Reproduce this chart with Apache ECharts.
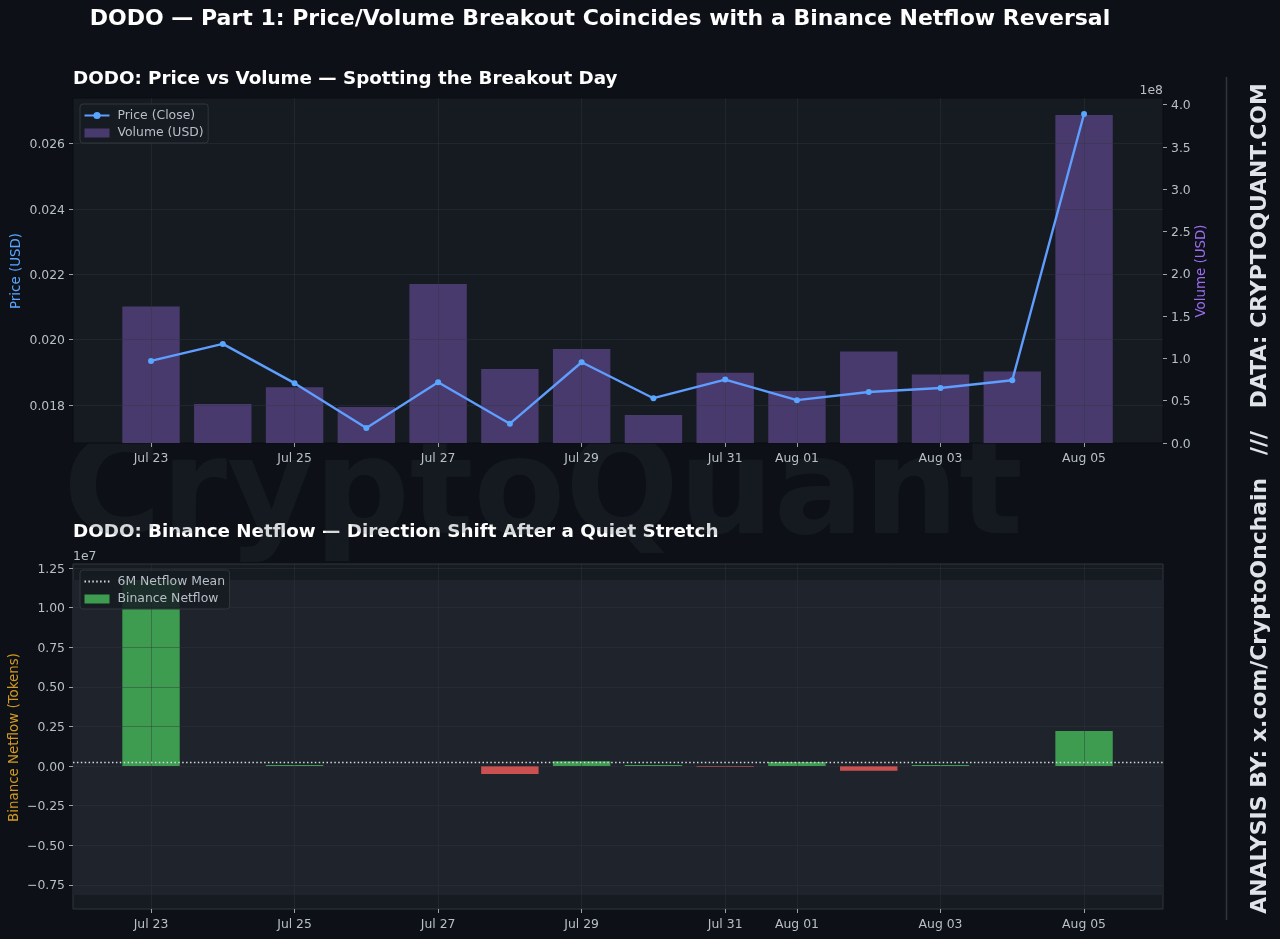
<!DOCTYPE html>
<html><head><meta charset="utf-8">
<style>html,body{margin:0;padding:0;background:#0d1117}#c{width:1280px;height:939px}</style>
<script src="https://cdn.jsdelivr.net/npm/echarts@6/dist/echarts.min.js"></script>
</head><body><div id="c"></div>
<script>
const dates = ['Jul 23','Jul 24','Jul 25','Jul 26','Jul 27','Jul 28','Jul 29','Jul 30','Jul 31','Aug 01','Aug 02','Aug 03','Aug 04','Aug 05'];
const price = [0.01935,0.01987,0.01867,0.0173,0.0187,0.01743,0.01931,0.01821,0.01878,0.01815,0.0184,0.01852,0.01876,0.0269];
const volume = [1.613e8,0.46e8,0.66e8,0.425e8,1.88e8,0.875e8,1.11e8,0.33e8,0.83e8,0.615e8,1.08e8,0.81e8,0.845e8,3.877e8];
const netflow = [1.174e7,0,12000,0,0,-0.05e7,0.03e7,10000,-12000,0.025e7,-0.03e7,12000,0,0.22e7];
const netflowMean = 0.022e7;
const netflowBand = [-0.814e7,1.174e7];
const xTickDays = ['Jul 23','Jul 25','Jul 27','Jul 29','Jul 31','Aug 01','Aug 03','Aug 05'];
const priceTicks = [0.018,0.020,0.022,0.024,0.026];
const volumeTicks = [0,0.5e8,1e8,1.5e8,2e8,2.5e8,3e8,3.5e8,4e8];
const netflowTicks = [-0.75e7,-0.5e7,-0.25e7,0,0.25e7,0.5e7,0.75e7,1e7,1.25e7];

const xTicks = xTickDays.map(d => dates.indexOf(d));
const XMIN = -1.087, XMAX = 14.1;
const TXT = '#b8bfc7';
const TICK = '#9aa3ad';
const FONT = 'DejaVu Sans';
const GRID = 'rgba(48,54,61,0.42)';
const xAxis = (gridIndex) => ({
  type:'value', gridIndex, min:XMIN, max:XMAX, z:6,
  axisLine:{show:false, onZero:false},
  axisTick:{show:true, customValues:xTicks, length:4, lineStyle:{color:TICK,width:1}},
  axisLabel:{customValues:xTicks, formatter:v => dates[v], color:TXT, fontFamily:FONT, fontSize:12.4, margin:10},
  splitLine:{show:true, lineStyle:{color:GRID,width:1}}
});
const yAxis = (gridIndex, ticks, fmt, pos, min, max, split) => ({
  type:'value', gridIndex, min, max, position:pos, z:6,
  axisLine:{show:false, onZero:false},
  axisTick:{show:true, customValues:ticks, length:4, lineStyle:{color:TICK,width:1}},
  axisLabel:{customValues:ticks, formatter:v => '{a|' + fmt(v) + '}', margin:8,
    rich:{a:{color:TXT, fontFamily:FONT, fontSize:12.4, padding:[3,0,0,0]}}},
  splitLine:{show:split, lineStyle:{color:GRID,width:1}}
});
const axisTitle = (text, fill, x, y) => ({type:'text', z:8, silent:true, x, y, rotation:Math.PI/2,
  style:{text, fill, font:'13.4px "DejaVu Sans"', textAlign:'center', textVerticalAlign:'middle'}});
const legendBase = {
  orient:'vertical', z:10, itemWidth:25, itemHeight:9, itemGap:5.5,
  padding:[5.5,4.5,4,3.5], borderWidth:1, borderRadius:3,
  backgroundColor:'rgba(22,27,34,0.85)', borderColor:'#30363d',
  textStyle:{color:TXT, fontFamily:FONT, fontSize:12.4, padding:[0,0,0,3]}
};
const chart = echarts.init(document.getElementById('c'), null, {renderer:'canvas'});
chart.setOption({
  animation:false,
  backgroundColor:'#0d1117',
  textStyle:{fontFamily:FONT},
  title:[
    {text:'DODO — Part 1: Price/Volume Breakout Coincides with a Binance Netflow Reversal', left:595, top:3, textAlign:'center', z:1, textStyle:{color:'#ffffff',fontFamily:FONT,fontSize:22,fontWeight:'bold'}},
    {text:'DODO: Price vs Volume — Spotting the Breakout Day', left:68, top:65, z:1, textStyle:{color:'#ffffff',fontFamily:FONT,fontSize:18.3,fontWeight:'bold'}},
    {text:'DODO: Binance Netflow — Direction Shift After a Quiet Stretch', left:68, top:518, z:1, textStyle:{color:'#ffffff',fontFamily:FONT,fontSize:18.3,fontWeight:'bold'}}
  ],
  grid:[
    {left:73, top:98, width:1090, height:345, show:true, z:3, outerBoundsMode:'none', backgroundColor:'#161b22', borderColor:'#0a0d12', borderWidth:1},
    {left:73, top:564, width:1090, height:345, show:true, z:3, outerBoundsMode:'none', backgroundColor:'#161b22', borderColor:'#30363d', borderWidth:1}
  ],
  xAxis:[xAxis(0), xAxis(1)],
  yAxis:[
    yAxis(0, priceTicks, v => v.toFixed(3), 'left', 0.01684, 0.02739, true),
    yAxis(0, volumeTicks, v => (v/1e8).toFixed(1), 'right', 0, 4.077e8, false),
    yAxis(1, netflowTicks, v => (v/1e7).toFixed(2).replace('-','\u2212'), 'left', -0.903e7, 1.275e7, true)
  ],
  legend:[
    Object.assign({}, legendBase, {left:80, top:104, data:['Price (Close)',{name:'Volume (USD)',icon:'rect'}]}),
    Object.assign({}, legendBase, {left:80, top:570, data:[{name:'6M Netflow Mean',itemStyle:{opacity:0}},{name:'Binance Netflow',icon:'rect'}]})
  ],
  series:[
    {name:'Volume (USD)', type:'bar', xAxisIndex:0, yAxisIndex:1, z:5, barWidth:57.4,
      itemStyle:{color:'#493a6d'}, data:volume.map((v,i)=>[i,v])},
    {name:'Price (Close)', type:'line', xAxisIndex:0, yAxisIndex:0, z:7, symbol:'circle', symbolSize:6,
      lineStyle:{color:'#5f9dff',width:2.4}, itemStyle:{color:'#58a6ff'}, data:price.map((v,i)=>[i,v])},
    {name:'Band', type:'line', xAxisIndex:1, yAxisIndex:2, z:4, data:[], silent:true,
      markArea:{silent:true, z:4, itemStyle:{color:'#1f242c'}, data:[[{yAxis:netflowBand[1],xAxis:XMIN},{yAxis:netflowBand[0],xAxis:XMAX}]]}},
    {name:'Binance Netflow', type:'bar', xAxisIndex:1, yAxisIndex:2, z:5, barWidth:57.4, barMinHeight:1,
      itemStyle:{color:'#3d9c50'},
      data:netflow.map((v,i)=>({value:[i,v], itemStyle:{color:v<0?'#cb5150':'#3d9c50'}})).filter(d=>d.value[1]!==0)},
    {name:'6M Netflow Mean', type:'line', xAxisIndex:1, yAxisIndex:2, z:7, symbol:'none',
      lineStyle:{color:'#d6dae0',width:1.5,type:[1.5,2.4]}, itemStyle:{color:'#d6dae0'},
      data:[[XMIN,netflowMean],[XMAX,netflowMean]]}
  ],
  graphic:[
    {type:'text', z:2, silent:true, x:543, y:565, style:{text:'CryptoQuant', fill:'rgba(56,64,74,0.2)', font:'bold 133.5px "DejaVu Sans"', textAlign:'center', textVerticalAlign:'bottom'}},
    axisTitle('Price (USD)', '#58a6ff', 17, 271),
    axisTitle('Volume (USD)', '#9a6cf0', 1202, 271),
    axisTitle('Binance Netflow (Tokens)', '#d29922', 15, 737.5),
    {type:'text', z:8, silent:true, x:1163, y:91, style:{text:'1e8', fill:TXT, font:'12.4px "DejaVu Sans"', textAlign:'right', textVerticalAlign:'middle'}},
    {type:'text', z:8, silent:true, x:73, y:557, style:{text:'1e7', fill:TXT, font:'12.4px "DejaVu Sans"', textAlign:'left', textVerticalAlign:'middle'}},
    {type:'line', z:8, silent:true, shape:{x1:1226.5,y1:77,x2:1226.5,y2:920}, style:{stroke:'#30363d',lineWidth:1.5}},
    {type:'text', z:8, silent:true, x:1260, y:498.5, rotation:Math.PI/2, style:{text:'ANALYSIS BY: x.com/CryptoOnchain   ///   DATA: CRYPTOQUANT.COM', fill:'#dfe4e9', font:'bold 21.9px "DejaVu Sans"', textAlign:'center', textVerticalAlign:'middle'}}
  ]
});
</script></body></html>
